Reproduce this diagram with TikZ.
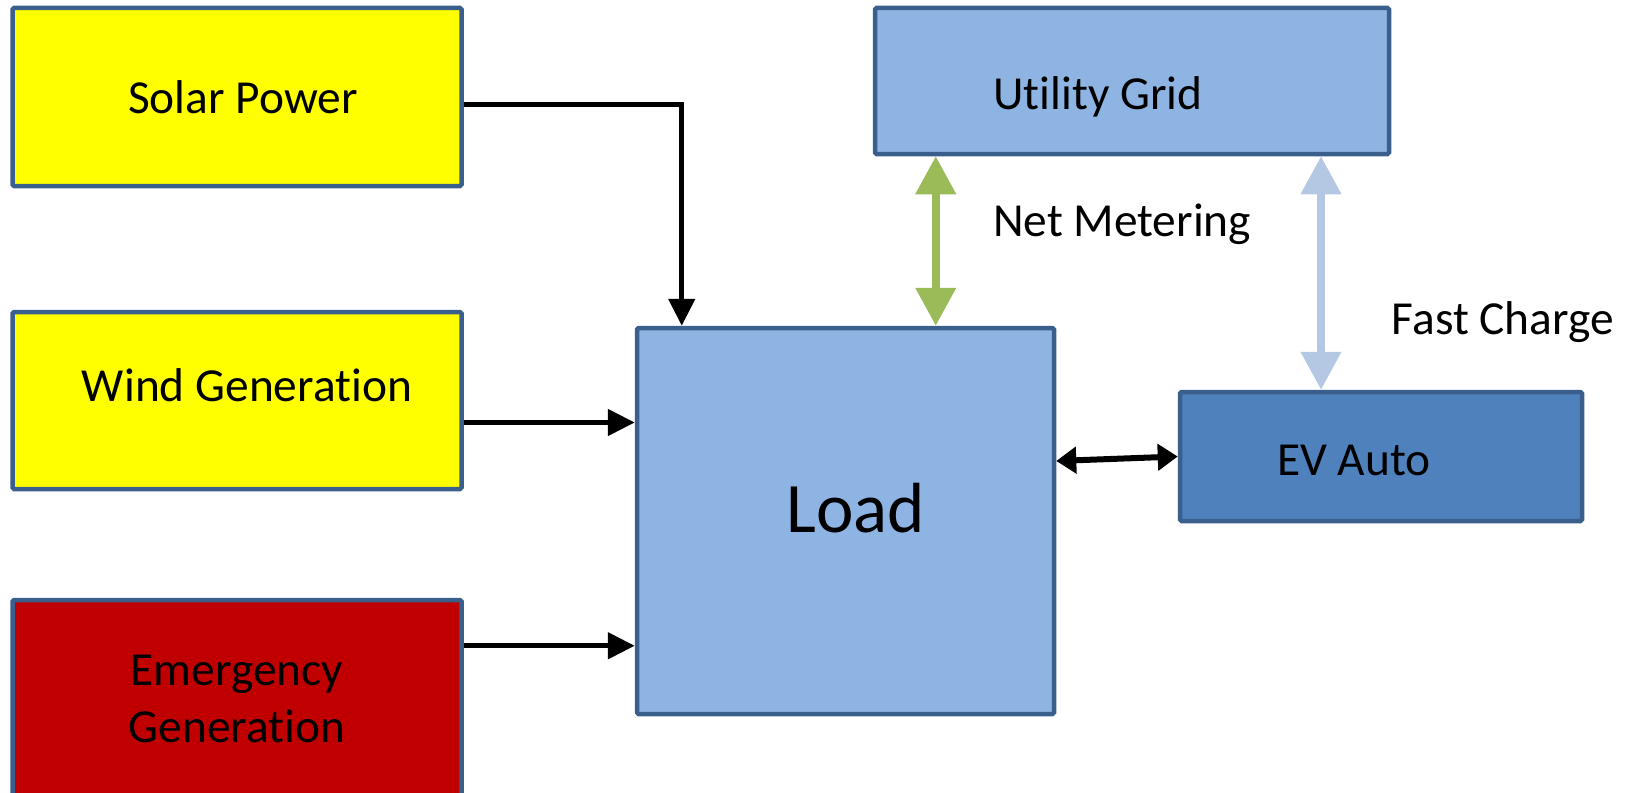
\documentclass[tikz,border=0pt]{standalone}
\usepackage{fontspec}
\setmainfont{Carlito}[Ligatures={NoCommon,NoRare}]
\usetikzlibrary{arrows.meta}
\definecolor{boxblue}{HTML}{8EB4E3}
\definecolor{boxedge}{HTML}{3B5F8C}
\definecolor{evblue}{HTML}{4F81BD}
\definecolor{sunyellow}{HTML}{FFFF00}
\definecolor{alarmred}{HTML}{C00000}
\definecolor{metergreen}{HTML}{9BBB59}
\definecolor{chargeblue}{HTML}{B4C8E4}

\begin{document}
\begin{tikzpicture}[x=1pt,y=-1pt,
    block/.style={draw=boxedge,line width=4.5pt,rounded corners=1.5pt,inner sep=0pt},
    txt/.style={font=\fontsize{47.4pt}{57pt}\selectfont,align=center,inner sep=0pt},
    flow/.style={line width=5pt,-{Triangle[length=27pt,width=26pt]}},
    swap/.style={line width=6pt,{Triangle[length=20pt,width=26pt]}-{Triangle[length=20pt,width=26pt]}},
    wide/.style={line width=7.5pt,{Triangle[length=38pt,width=39pt]}-{Triangle[length=38pt,width=39pt]}}]
    \useasboundingbox (0,0) rectangle (1637,792);
    \node[block,fill=sunyellow,minimum width=449pt,minimum height=178pt] (solar) at (237,97) {};
    \node[block,fill=sunyellow,minimum width=449pt,minimum height=177pt] (wind) at (237,400.5) {};
    \node[block,fill=alarmred,minimum width=449pt,minimum height=210pt] (emerg) at (237,705) {};
    \node[block,fill=boxblue,minimum width=417pt,minimum height=386pt] (load) at (845.5,521) {};
    \node[block,fill=boxblue,minimum width=514pt,minimum height=146pt] (grid) at (1132,81) {};
    \node[block,fill=evblue,minimum width=402pt,minimum height=129pt] (ev) at (1381,456.5) {};
    \node[txt] (solartxt) at (243,97) {Solar Power};
    \node[txt] (windtxt) at (247,385) {Wind Generation};
    \node[txt] (emergtxt) at (237,699) {Emergency\\Generation};
    \node[txt,font=\fontsize{71pt}{85pt}\selectfont] (loadtxt) at (856,508) {Load};
    \node[txt] (gridtxt) at (1098,97) {Utility Grid};
    \node[txt] (evtxt) at (1354,460) {EV Auto};
    \node[txt] (nettxt) at (1122,224) {Net Metering};
    \node[txt] (fasttxt) at (1503,322) {Fast Charge};
    \draw[flow] ([yshift=-7pt]solar.east) -| ([xshift=47pt]load.north west);
    \draw[flow] ([yshift=-22pt]wind.east) coordinate (w) -- (w -| load.west);
    \draw[flow] ([yshift=-48pt]emerg.north east) coordinate (e) -- (e -| load.west);
    \draw[wide,metergreen] ([xshift=63pt]grid.south west) coordinate (g) -- (g |- load.north);
    \draw[wide,chargeblue] ([xshift=-60pt]ev.north) coordinate (c) -- (c |- grid.south);
    \draw[swap] ([yshift=60pt]load.east) -- (ev.west);
  \end{tikzpicture}
\end{document}
